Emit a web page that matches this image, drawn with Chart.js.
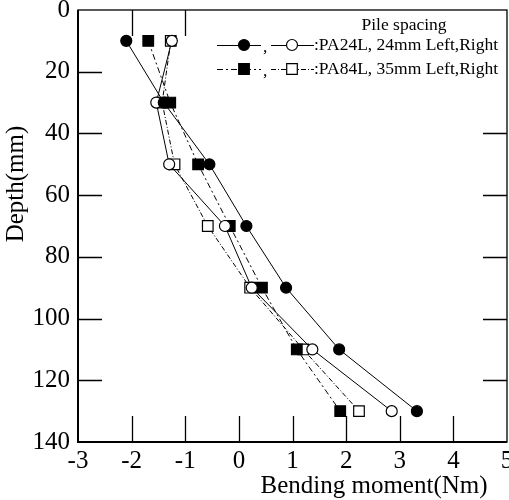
<!DOCTYPE html>
<html><head><meta charset="utf-8">
<script src="https://cdn.jsdelivr.net/npm/chart.js@4/dist/chart.umd.min.js"></script>
<style>html,body{margin:0;padding:0;background:#fff;overflow:hidden}canvas{display:block}</style>
</head><body>
<canvas id="c" width="509" height="500"></canvas>
<script>
const depths = [10, 30, 50, 70, 90, 110, 130];
const pa24Left  = [-2.10, -1.40, -0.55, 0.14, 0.88, 1.87, 3.32];
const pa24Right = [-1.25, -1.54, -1.30, -0.26, 0.24, 1.37, 2.85];
const pa84Left  = [-1.69, -1.28, -0.76, -0.17, 0.43, 1.08, 1.89];
const pa84Right = [-1.27, -1.43, -1.20, -0.58, 0.21, 1.20, 2.24];
const xTicks = [-3, -2, -1, 0, 1, 2, 3, 4, 5];
const yTicks = [0, 20, 40, 60, 80, 100, 120, 140];
const legendTitle = 'Pile spacing';
const legendLabels = [':PA24L, 24mm Left,Right', ':PA84L, 35mm Left,Right'];
const xTitle = 'Bending moment(Nm)';
const yTitle = 'Depth(mm)';

const pts = (xs) => xs.map((x, i) => ({x: x, y: depths[i]}));
const SERIF = '"Liberation Serif", "Times New Roman", serif';
const DASH_A = [6, 3, 2, 3];
const DASH_B = [5, 2, 1, 2];

function ds(label, xs, style, filled, dash) {
  const r = style === 'rect' ? 7.5 : 5.5;
  return {
    label, data: pts(xs), showLine: true,
    borderColor: '#000', borderWidth: 1, borderDash: dash,
    pointStyle: style, pointRadius: r, pointHoverRadius: r,
    pointBackgroundColor: filled ? '#000' : '#fff',
    pointBorderColor: '#000', pointBorderWidth: 1.2
  };
}

const decor = {
  id: 'decor',
  afterDraw(chart) {
    const ctx = chart.ctx, a = chart.chartArea;
    const xs = chart.scales.x, ys = chart.scales.y;
    ctx.save();
    ctx.strokeStyle = '#000';
    // frame
    ctx.lineWidth = 1.3;
    ctx.strokeRect(a.left, a.top, a.right - a.left, a.bottom - a.top);
    ctx.lineWidth = 2;
    ctx.beginPath();
    ctx.moveTo(a.left, a.top); ctx.lineTo(a.left, a.bottom); ctx.lineTo(a.right, a.bottom);
    ctx.stroke();
    // inner ticks
    ctx.lineWidth = 1.3;
    ctx.beginPath();
    xTicks.slice(1, -1).forEach(v => {
      const p = Math.round(xs.getPixelForValue(v)) + 0.5;
      ctx.moveTo(p, a.bottom); ctx.lineTo(p, a.bottom - 26);
      if (v === -2 || v === -1) { ctx.moveTo(p, a.top); ctx.lineTo(p, a.top + 26); }
    });
    yTicks.slice(1, -1).forEach(v => {
      const p = Math.round(ys.getPixelForValue(v)) + 0.5;
      ctx.moveTo(a.left, p); ctx.lineTo(a.left + 24, p);
      if (v >= 40) { ctx.moveTo(a.right, p); ctx.lineTo(a.right - 24, p); }
    });
    ctx.stroke();

    // axis titles
    ctx.fillStyle = '#000';
    ctx.font = '25px ' + SERIF;
    ctx.textAlign = 'center'; ctx.textBaseline = 'middle';
    ctx.fillText(xTitle, 374, 486);
    ctx.save();
    ctx.translate(16, 184); ctx.rotate(-Math.PI / 2);
    ctx.fillText(yTitle, 0, 0);
    ctx.restore();

    // legend
    ctx.font = '17.5px ' + SERIF;
    ctx.fillText(legendTitle, 404, 25);
    ctx.textAlign = 'left';
    const rows = [
      {y: 45, dashA: [], dashB: [], shape: 'circle'},
      {y: 69, dashA: DASH_A, dashB: DASH_B, shape: 'rect'}
    ];
    rows.forEach((r, i) => {
      ctx.lineWidth = 1;
      ctx.setLineDash(r.dashA);
      ctx.beginPath(); ctx.moveTo(217, r.y + 0.5); ctx.lineTo(261, r.y + 0.5); ctx.stroke();
      ctx.setLineDash(r.dashB);
      ctx.beginPath(); ctx.moveTo(271, r.y + 0.5); ctx.lineTo(314, r.y + 0.5); ctx.stroke();
      ctx.setLineDash([]);
      ctx.lineWidth = 1.2;
      ctx.fillStyle = '#000';
      ctx.beginPath();
      if (r.shape === 'circle') ctx.arc(244, r.y, 5.5, 0, Math.PI * 2); else ctx.rect(244 - 5.3, r.y - 5.3, 10.6, 10.6);
      ctx.fill(); ctx.stroke();
      ctx.fillStyle = '#fff';
      ctx.beginPath();
      if (r.shape === 'circle') ctx.arc(292, r.y, 5.5, 0, Math.PI * 2); else ctx.rect(292 - 5.3, r.y - 5.3, 10.6, 10.6);
      ctx.fill(); ctx.stroke();
      ctx.fillStyle = '#000';
      ctx.textBaseline = 'middle';
      ctx.fillText(',', 263, r.y + 2);
      ctx.fillText(legendLabels[i], 314, r.y);
    });
    ctx.restore();
  }
};

new Chart(document.getElementById('c'), {
  type: 'scatter',
  data: {
    datasets: [
      ds('PA24L Left', pa24Left, 'circle', true, []),
      ds('PA24L Right', pa24Right, 'circle', false, []),
      ds('PA84L Left', pa84Left, 'rect', true, DASH_A),
      ds('PA84L Right', pa84Right, 'rect', false, DASH_B)
    ]
  },
  options: {
    responsive: false, animation: false, events: [],
    layout: {autoPadding: false, padding: {top: 10, right: 2, left: 0, bottom: 0}},
    plugins: {legend: {display: false}, tooltip: {enabled: false}},
    scales: {
      x: {
        type: 'linear', min: -3, max: 5,
        afterBuildTicks: s => { s.ticks = xTicks.map(v => ({value: v})); },
        afterFit: s => { s.height = 58; s.paddingLeft = 0; s.paddingRight = 0; },
        grid: {display: false, drawTicks: false},
        border: {display: false},
        ticks: {color: '#000', font: {family: SERIF, size: 25}, padding: 4, maxRotation: 0, autoSkip: false}
      },
      y: {
        type: 'linear', min: 0, max: 140, reverse: true,
        afterBuildTicks: s => { s.ticks = yTicks.map(v => ({value: v})); },
        afterFit: s => { s.width = 78; s.paddingTop = 0; s.paddingBottom = 0; },
        grid: {display: false, drawTicks: false},
        border: {display: false},
        ticks: {color: '#000', font: {family: SERIF, size: 25}, padding: 8, autoSkip: false}
      }
    }
  },
  plugins: [decor]
});
</script>
</body></html>
